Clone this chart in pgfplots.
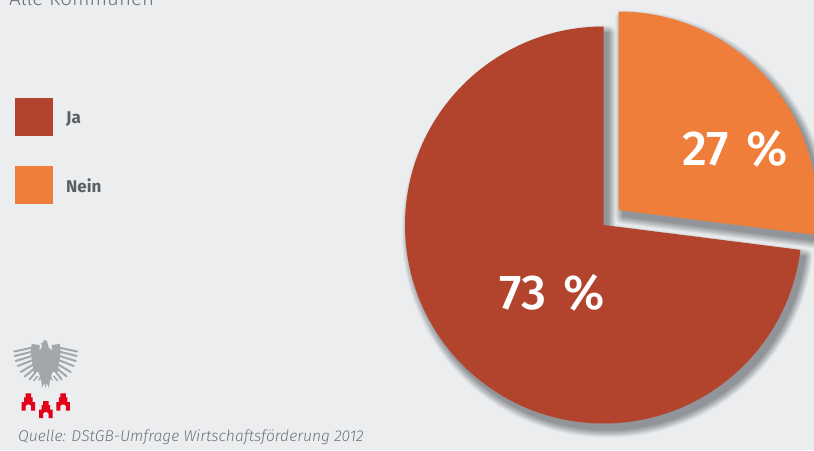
\documentclass[border=0pt]{standalone}
\usepackage{fontspec}
\usepackage{pgfplots}
\usepackage{pgfplotstable}
\pgfplotsset{compat=1.18}
\setmainfont{Fira Sans}
\newfontfamily\lightfont{Fira Sans Light}[ItalicFont={Fira Sans Light Italic}]
\newfontfamily\medfont{Fira Sans Medium}

\definecolor{paper}{HTML}{EBEDEF}
\definecolor{jared}{HTML}{B2432C}
\definecolor{neinorange}{HTML}{EF7E3B}
\definecolor{labelgray}{HTML}{5C5F62}
\definecolor{sourcegray}{HTML}{707376}
\definecolor{eaglegray}{HTML}{A3A7A9}
\definecolor{townred}{HTML}{E2001A}
\definecolor{shade}{HTML}{33393E}

% One row per slice: apex of the slice, share in percent, start angle in degrees
\pgfplotstableread{
x      y     share start
603.5  225   73    90
}\tableJa
\pgfplotstableread{
x      y     share start
618.5  240   27    -7.2
}\tableNein

\newcommand{\pieradius}{198.5pt}

% Soft shadow built from widening translucent copies of a slice
\newcommand{\sliceoutline}[1]{
  \begin{scope}[transparency group,opacity=0.034]
    \path[fill=shade,draw=shade,line width=#1,line join=round]
      (4.5pt,-6.5pt) -- ++(\start:\pieradius) arc[start angle=\start,delta angle=\sweep,radius=\pieradius] -- cycle;
  \end{scope}
}

\pgfplotsset{
  slice base/.style={
    scatter, only marks, mark=none, scatter src=explicit,
    visualization depends on={\thisrow{share}*3.6 \as \sweep},
    visualization depends on={\thisrow{start} \as \start},
    scatter/@post marker code/.code={\endpgfscope},
  },
  slice fill/.style={
    slice base,
    scatter/@pre marker code/.code={
      \pgfscope
      \path[fill=#1,draw=none] (0,0) -- (\start:\pieradius)
        arc[start angle=\start,delta angle=\sweep,radius=\pieradius] -- cycle;
    },
  },
  slice shadow/.style={
    slice base,
    scatter/@pre marker code/.code={
      \pgfscope
      \foreach \w in {0.5,1,1.5,2,3,4,5,6,7,8,9,10,11,12,13,14,16} {\sliceoutline{\w pt}}
    },
  },
}

\begin{document}
\begin{tikzpicture}
\path[use as bounding box,clip] (0,0) rectangle (814pt,450pt);
\fill[paper] (0,0) rectangle (814pt,450pt);
\begin{axis}[
  at={(0,0)}, anchor=south west,
  scale only axis, width=814pt, height=450pt,
  xmin=0, xmax=814, ymin=0, ymax=450,
  hide axis, clip=false,
]
  % Shadows go first so that neither slice is darkened by the other
  \addplot[slice shadow] table[x=x,y=y,meta=share] {\tableJa};
  \addplot[slice shadow] table[x=x,y=y,meta=share] {\tableNein};
  \addplot[slice fill=jared] table[x=x,y=y,meta=share] {\tableJa};
  \addplot[slice fill=neinorange] table[x=x,y=y,meta=share] {\tableNein};
\end{axis}

% Everything below is laid out with y running downwards from the top edge
\begin{scope}[shift={(0,450pt)},x=1pt,y=-1pt]
  \node[text=white,font=\medfont\fontsize{49pt}{49pt}\selectfont,inner sep=0pt]
    at (552,293) {73\hspace{0.36em}\%};
  \node[text=white,font=\medfont\fontsize{49pt}{49pt}\selectfont,inner sep=0pt]
    at (735,149) {27\hspace{0.36em}\%};

  \node[anchor=base west,inner sep=0pt,text=sourcegray,font=\lightfont\fontsize{20.6pt}{22pt}\selectfont]
    at (9,5.5) {Alle Kommunen};

  \fill[jared] (15,98) rectangle (53,136);
  \fill[neinorange] (15,166) rectangle (53,204);
  \node[anchor=base west,inner sep=0pt,text=labelgray,font=\bfseries\fontsize{17pt}{17pt}\selectfont]
    at (66,124) {Ja};
  \node[anchor=base west,inner sep=0pt,text=labelgray,font=\bfseries\fontsize{17pt}{17pt}\selectfont]
    at (66,192.5) {Nein};

  \node[anchor=base west,inner sep=0pt,text=sourcegray,font=\lightfont\itshape\fontsize{15.6pt}{16pt}\selectfont]
    at (18,441) {Quelle: DStGB-Umfrage Wirtschaftsförderung 2012};

  % Federal eagle
  \fill[eaglegray] (38.5,352) -- (42,347) -- (41.5,344.5) -- (40.5,343.5) -- (43,342.5) -- (44,340)
    -- (47,341) -- (48.5,347) -- (53,352) -- (54.5,368) -- (51,376) -- (53,381) -- (50,379)
    -- (49,388) -- (46.5,383) -- (45.5,388) -- (44,383) -- (42,388) -- (41,379) -- (38,381)
    -- (40,376) -- (36.5,368) -- cycle;
  \foreach \s/\c in {1/45.7,-1/45.7} {
    \begin{scope}[shift={(\c,0)},xscale=\s]
      \draw[eaglegray,line width=2pt,line cap=round]
        (8,346.5) -- (31.5,351.5)
        (9,350.5) -- (31,356)
        (9,354.5) -- (30,361)
        (9,358.5) -- (28,366)
        (9,362.5) -- (25,372)
        (9,366.5) -- (21,376.5)
        (9,370.5) -- (16,379.5);
      \fill[eaglegray] (6,345) -- (14,344) -- (15,352) -- (12,372) -- (7,372) -- cycle;
      \draw[eaglegray,line width=1.5pt] (8,376) -- (12,381);
    \end{scope}
  }

  % Three red town houses
  \foreach \x/\y in {21.7/393,39/400.7,56.3/393} {
    \fill[townred,shift={(\x,\y)}] (0,17.5) -- (0,9) -- (2.5,9) -- (2.5,4.5) -- (4,4.5) -- (4,0.5)
      -- (9.5,0.5) -- (9.5,4.5) -- (11,4.5) -- (11,9) -- (13.5,9) -- (13.5,17.5) -- (9.5,17.5)
      -- (9.5,13) -- (8,11.5) -- (5.5,11.5) -- (4,13) -- (4,17.5) -- cycle;
  }
\end{scope}
\end{tikzpicture}
\end{document}
